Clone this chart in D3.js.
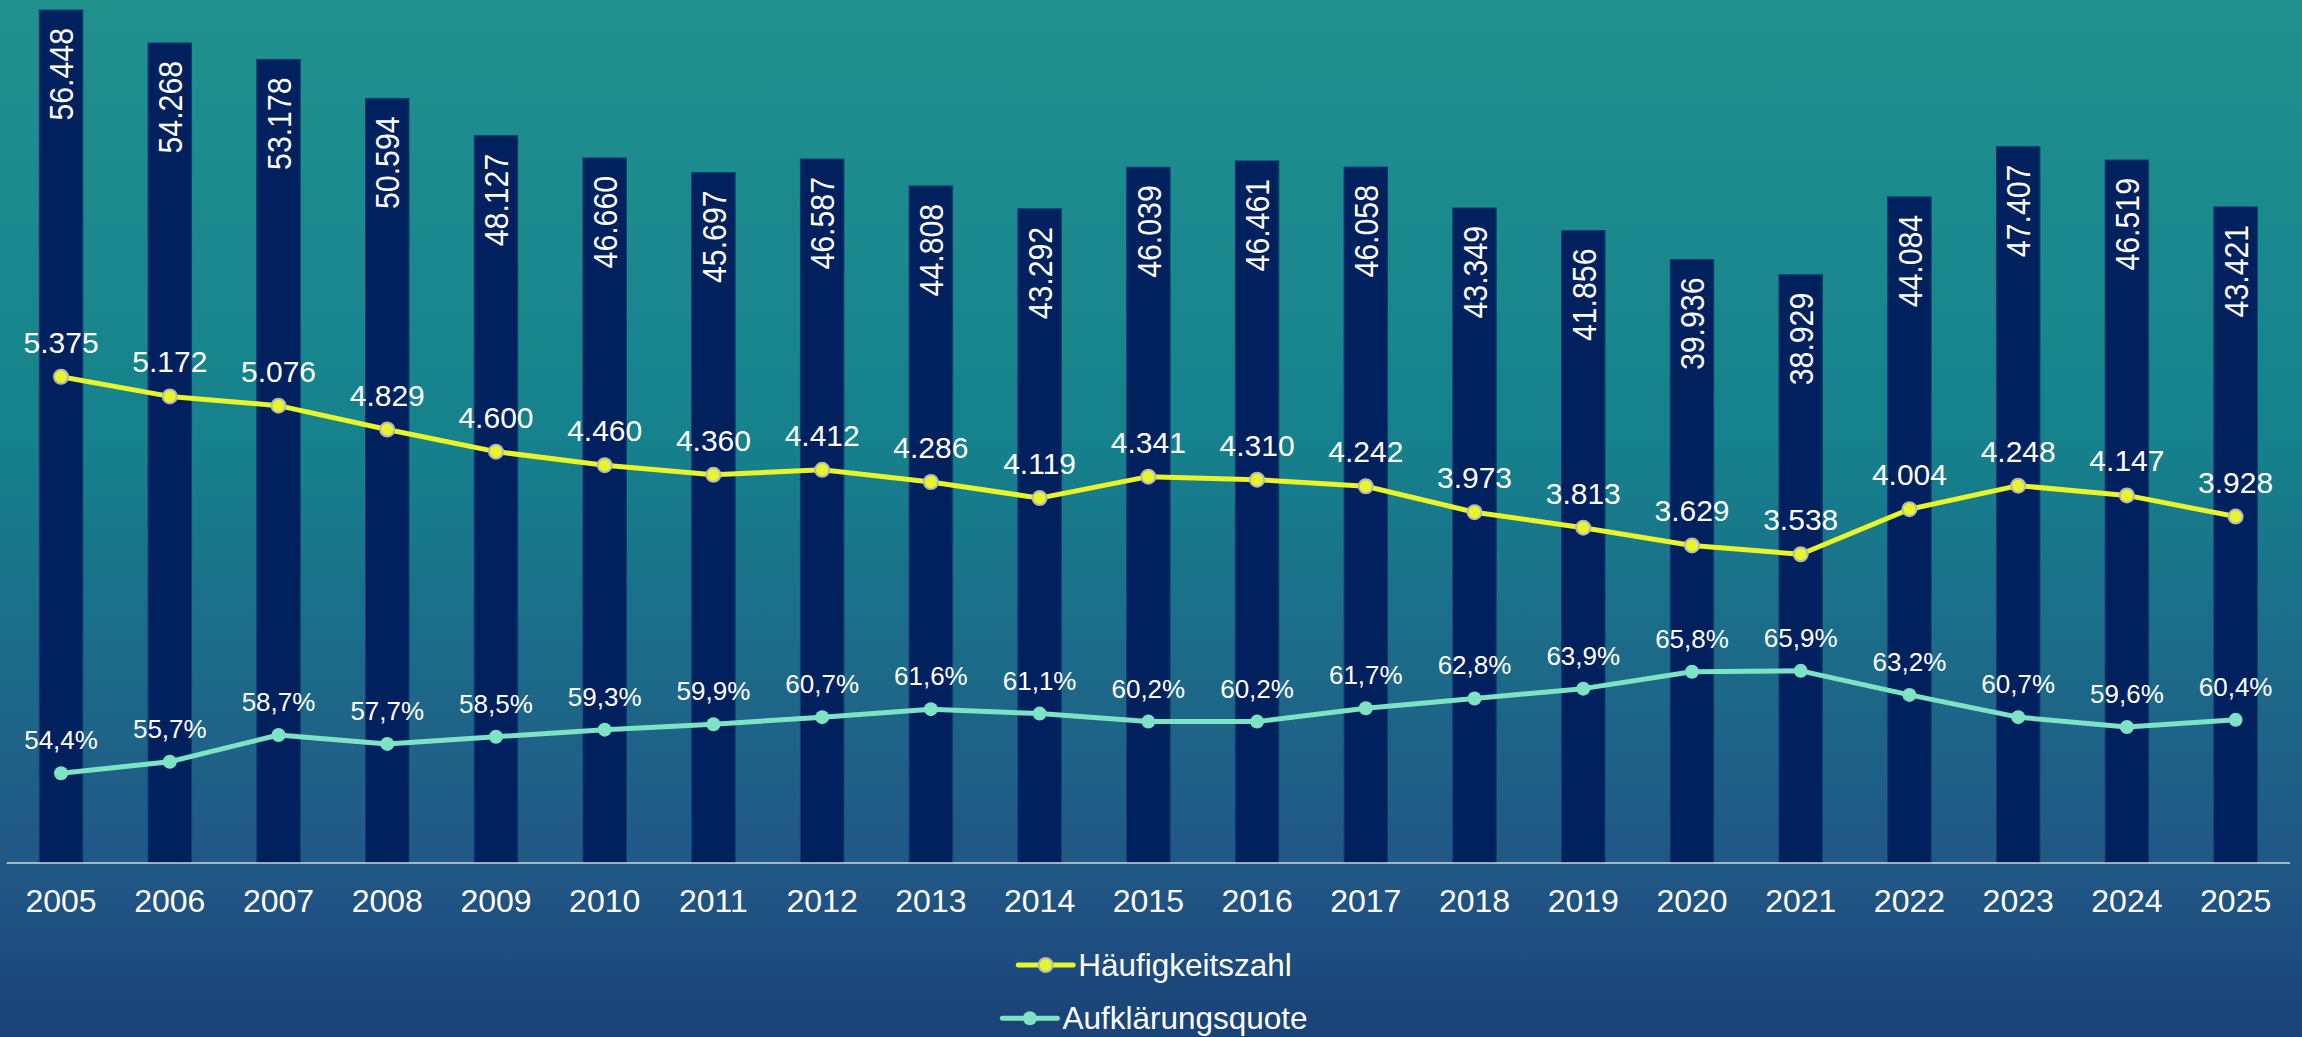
<!DOCTYPE html>
<meta charset="utf-8">
<style>
body {
  margin: 0;
  font-family: "Liberation Sans", Arial, Helvetica, sans-serif;
}
svg text {
  fill: #fff;
}
</style>
<body>
<script src="https://cdn.jsdelivr.net/npm/d3@7"></script>
<script>

var width = 2302,
    height = 1037;

// data
var years = ["2005", "2006", "2007", "2008", "2009", "2010", "2011", "2012", "2013", "2014", "2015",
             "2016", "2017", "2018", "2019", "2020", "2021", "2022", "2023", "2024", "2025"];
var faelle = [56448, 54268, 53178, 50594, 48127, 46660, 45697, 46587, 44808, 43292, 46039,
              46461, 46058, 43349, 41856, 39936, 38929, 44084, 47407, 46519, 43421];
var haeufigkeit = [5375, 5172, 5076, 4829, 4600, 4460, 4360, 4412, 4286, 4119, 4341,
                   4310, 4242, 3973, 3813, 3629, 3538, 4004, 4248, 4147, 3928];
var quote = [54.4, 55.7, 58.7, 57.7, 58.5, 59.3, 59.9, 60.7, 61.6, 61.1, 60.2,
             60.2, 61.7, 62.8, 63.9, 65.8, 65.9, 63.2, 60.7, 59.6, 60.4];
var legendNames = ["Häufigkeitszahl", "Aufklärungsquote"];

var yellow = "#e8f52b",
    mint = "#7ee3c5",
    navy = "#00205e";

var fmtInt = function(v) { return d3.format(",")(v).replace(/,/g, "."); };
var fmtPct = function(v) { return d3.format(".1f")(v).replace(".", ",") + "%"; };

var svg = d3.select("body").append("svg")
    .attr("width", width)
    .attr("height", height);

var grad = svg.append("defs").append("linearGradient")
    .attr("id", "bg")
    .attr("x1", 0).attr("y1", 0).attr("x2", 0).attr("y2", 1);
[[0, "#21918e"], [0.42, "#15828c"], [0.6, "#1b6e89"], [0.83, "#215886"], [1, "#1a4277"]].forEach(function(s) {
  grad.append("stop").attr("offset", s[0]).attr("stop-color", s[1]);
});

svg.append("rect")
    .attr("width", width)
    .attr("height", height)
    .attr("fill", "url(#bg)");

var baseY = 863;

var x = d3.scaleBand()
    .domain(years)
    .range([6.7, 2290])
    .paddingInner(0.6)
    .paddingOuter(0.3);

var yBar = d3.scaleLinear().domain([0, 57110]).range([baseY, 0]);
var yH = d3.scaleLinear().domain([0, 6000]).range([896, 896 - 6000 * 0.0966]);
var yQ = d3.scaleLinear().domain([50, 70]).range([812.5, 634.3]);

var cx = function(i) { return x(years[i]) + x.bandwidth() / 2; };

// bars
svg.append("g").selectAll("rect")
    .data(faelle)
  .enter().append("rect")
    .attr("x", function(d, i) { return x(years[i]); })
    .attr("y", function(d) { return yBar(d); })
    .attr("width", x.bandwidth())
    .attr("height", function(d) { return baseY - yBar(d); })
    .attr("fill", navy)
    .attr("stroke", "#0e3f73")
    .attr("stroke-width", 1);

svg.append("g").selectAll("text")
    .data(faelle)
  .enter().append("text")
    .attr("transform", function(d, i) {
      return "translate(" + cx(i) + "," + (yBar(d) + 18) + ")rotate(-90)scale(0.89,1)";
    })
    .attr("text-anchor", "end")
    .attr("dy", "0.36em")
    .style("font-size", "34px")
    .text(fmtInt);

// x axis
svg.append("line")
    .attr("x1", 6.7).attr("x2", 2290)
    .attr("y1", baseY).attr("y2", baseY)
    .attr("stroke", "#d0d5db")
    .attr("stroke-width", 1.5);

svg.append("g").selectAll("text")
    .data(years)
  .enter().append("text")
    .attr("x", function(d, i) { return cx(i); })
    .attr("y", 912)
    .attr("text-anchor", "middle")
    .style("font-size", "32px")
    .text(function(d) { return d; });

// lines
function drawSeries(values, yScale, color, fmt, fontSize, stroke) {
  var g = svg.append("g");
  g.append("path")
      .datum(values)
      .attr("fill", "none")
      .attr("stroke", color)
      .attr("stroke-width", 5)
      .attr("stroke-linejoin", "round")
      .attr("d", d3.line()
        .x(function(d, i) { return cx(i); })
        .y(function(d) { return yScale(d); }));
  g.selectAll("circle")
      .data(values)
    .enter().append("circle")
      .attr("cx", function(d, i) { return cx(i); })
      .attr("cy", function(d) { return yScale(d); })
      .attr("r", 7)
      .attr("fill", color)
      .attr("stroke", stroke)
      .attr("stroke-width", stroke === "none" ? 0 : 2);
  g.selectAll("text")
      .data(values)
    .enter().append("text")
      .attr("x", function(d, i) { return cx(i); })
      .attr("y", function(d) { return yScale(d) - 24; })
      .attr("text-anchor", "middle")
      .style("font-size", fontSize)
      .text(fmt);
}

drawSeries(haeufigkeit, yH, yellow, fmtInt, "30px", "#b8b8b8");
drawSeries(quote, yQ, mint, fmtPct, "26px", "none");

// legend
var legendColors = [yellow, mint],
    legendStroke = ["#b8b8b8", "none"];

legendNames.forEach(function(name, i) {
  var gy = 965 + i * 53.3;
  var g = svg.append("g");
  var t = g.append("text")
      .attr("x", 60)
      .attr("y", gy)
      .attr("dy", "0.35em")
      .style("font-size", "31.5px")
      .text(name);
  g.append("line")
      .attr("x1", 0).attr("x2", 55)
      .attr("y1", gy).attr("y2", gy)
      .attr("stroke", legendColors[i])
      .attr("stroke-width", 5)
      .attr("stroke-linecap", "round");
  g.append("circle")
      .attr("cx", 27.5).attr("cy", gy)
      .attr("r", 7)
      .attr("fill", legendColors[i])
      .attr("stroke", legendStroke[i])
      .attr("stroke-width", legendStroke[i] === "none" ? 0 : 2);
  var w = 60 + t.node().getComputedTextLength();
  g.attr("transform", "translate(" + (1155 - w / 2) + ",0)");
});

</script>
